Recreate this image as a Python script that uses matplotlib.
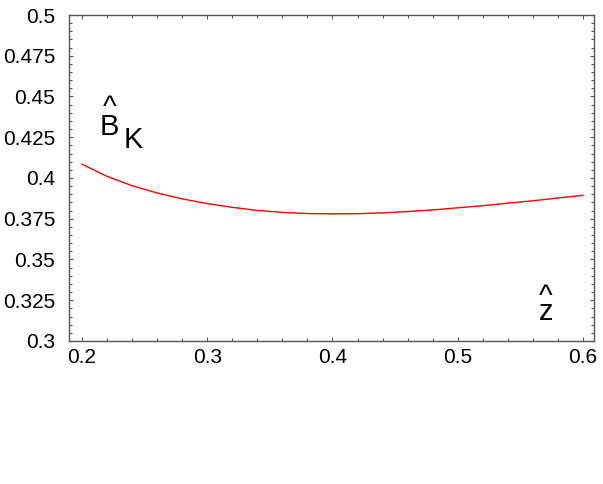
import numpy as np
import matplotlib
matplotlib.use('Agg')
import matplotlib.pyplot as plt
from matplotlib.ticker import MultipleLocator, FormatStrFormatter

plt.rcParams['font.family'] = ['Liberation Sans', 'DejaVu Sans']

# curve
zhat = [0.20, 0.22, 0.24, 0.26, 0.28, 0.30, 0.32, 0.34, 0.36, 0.38, 0.40,
        0.42, 0.44, 0.46, 0.48, 0.50, 0.52, 0.54, 0.56, 0.58, 0.60]
bk = [0.4085, 0.4010, 0.3953, 0.3908, 0.3872, 0.3843, 0.3820, 0.3801, 0.3789, 0.3782, 0.3780,
      0.3781, 0.3786, 0.3794, 0.3804, 0.3817, 0.3830, 0.3845, 0.3860, 0.3877, 0.3894]
xticks = [0.2, 0.3, 0.4, 0.5, 0.6]
yticks = [0.3, 0.325, 0.35, 0.375, 0.4, 0.425, 0.45, 0.475, 0.5]

fig = plt.figure(figsize=(6.03, 4.84), dpi=100)
ax = fig.add_axes([0.1144, 0.2955, 0.8706, 0.6735])
ax.plot(zhat, bk, color='red', lw=1.0)

ax.set_xlim(0.1896, 0.6088)
ax.set_ylim(0.3, 0.5)
ax.set_xticks(xticks)
ax.set_yticks(yticks)
ax.xaxis.set_minor_locator(MultipleLocator(0.02))
ax.yaxis.set_minor_locator(MultipleLocator(0.005))
ax.xaxis.set_major_formatter(FormatStrFormatter('%g'))
ax.yaxis.set_major_formatter(FormatStrFormatter('%g'))

fc = '#555555'
for s in ax.spines.values():
    s.set_color(fc)
    s.set_linewidth(1.0)
ax.tick_params(which='both', direction='in', top=True, right=True, color=fc, width=0.8)
ax.tick_params(which='major', length=3.2, labelsize=15, labelcolor='black')
ax.tick_params(which='minor', length=2.0)
ax.tick_params(axis='y', pad=10)
ax.tick_params(axis='x', pad=5)

# axis labels placed inside the frame like the original (hat on a line above)
ax.text(0.2221, 0.4226, '^\nB', fontsize=21, ha='center', va='bottom',
        multialignment='center', linespacing=0.6)
ax.text(0.2330, 0.4184, 'K', fontsize=21, ha='left', va='baseline')
ax.text(0.5705, 0.3092, '^\nz', fontsize=21, ha='center', va='bottom',
        multialignment='center', linespacing=0.42)

fig.savefig('out.png', dpi=100)
